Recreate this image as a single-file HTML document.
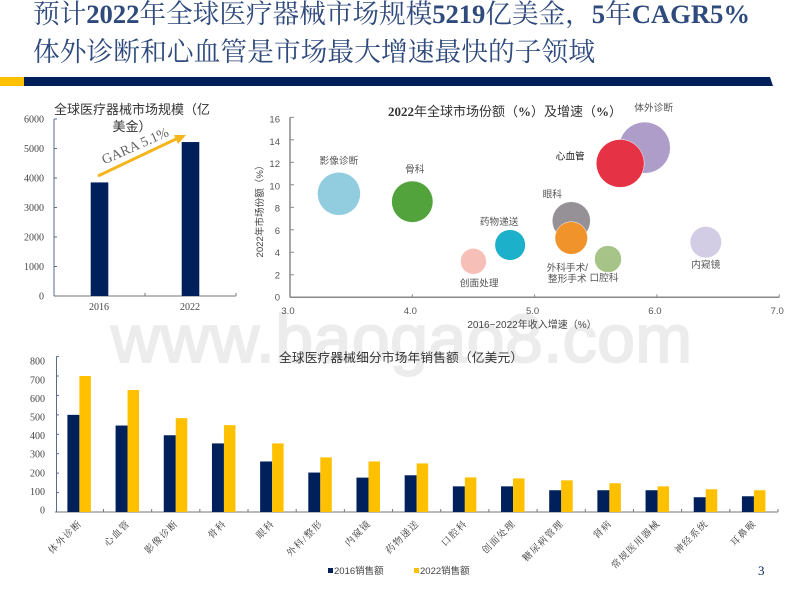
<!DOCTYPE html>
<html lang="zh">
<head>
<meta charset="utf-8">
<title>全球医疗器械市场</title>
<style>
html,body{margin:0;padding:0;background:#fff;}
#slide{position:relative;width:800px;height:600px;overflow:hidden;background:#fff;}
svg{position:absolute;left:0;top:0;}
text{font-family:"Liberation Sans","Noto Sans CJK SC",sans-serif;}
.head{font-family:"Liberation Serif","Noto Serif CJK SC",serif;fill:#2f4a7c;font-size:26.7px;}
.head tspan.b{font-weight:bold;}
.serif{font-family:"Liberation Serif","Noto Serif CJK SC",serif;}
</style>
</head>
<body>
<div id="slide">
<svg id="chart" width="800" height="600" viewBox="0 0 800 600">
  <text x="111" y="362" font-size="68" fill="#ececec" stroke="#ececec" stroke-width="2" textLength="581" lengthAdjust="spacing">www.baogao8.com</text>

  <text class="head" x="33" y="23" textLength="717" lengthAdjust="spacing">预计<tspan class="b">2022</tspan>年全球医疗器械市场规模<tspan class="b">5219</tspan>亿美金，<tspan class="b">5</tspan>年<tspan class="b">CAGR5%</tspan></text>
  <text class="head" x="33" y="61" textLength="562" lengthAdjust="spacing">体外诊断和心血管是市场最大增速最快的子领域</text>

  <rect x="0" y="77" width="24" height="9" fill="#ffc000"/>
  <polygon points="24,77 770,77 773,86 24,86" fill="#00205b"/>

  <text x="132" y="114" font-size="13" fill="#333" text-anchor="middle">全球医疗器械市场规模（亿</text>
  <text x="132" y="131" font-size="13" fill="#333" text-anchor="middle">美金）</text>

  <text x="388" y="116" font-size="13" fill="#333" textLength="234" lengthAdjust="spacing"><tspan class="serif" font-weight="bold">2022</tspan>年全球市场份额（<tspan class="serif" font-weight="bold">%</tspan>）及增速（<tspan class="serif" font-weight="bold">%</tspan>）</text>
  <text x="532" y="328" font-size="10" fill="#444" text-anchor="middle">2016~2022年收入增速（%）</text>
  <text transform="translate(263,209) rotate(-90)" font-size="9.6" fill="#444" text-anchor="middle">2022年市场份额（%）</text>

  <text x="279" y="362" font-size="12.7" fill="#333" textLength="244" lengthAdjust="spacing">全球医疗器械细分市场年销售额（亿美元）</text>

  <rect x="328" y="568" width="5" height="5" fill="#00205b"/>
  <text x="334" y="574" font-size="9.5" fill="#444">2016销售额</text>
  <rect x="414" y="568" width="5" height="5" fill="#ffc000"/>
  <text x="420" y="574" font-size="9.5" fill="#444">2022销售额</text>

  <text class="serif" x="758" y="575" font-size="13" fill="#00205b">3</text>
</svg>
</div>
<script>
var sizeYears = ["2016", "2022"];
var sizeValues = [3850, 5219];
var sizeTicks = [0, 1000, 2000, 3000, 4000, 5000, 6000];

var bubbleNames = ["影像诊断", "骨科", "药物递送", "创面处理", "体外诊断", "心血管", "眼科", "外科手术/整形手术", "口腔科", "内窥镜"];
var bubbleGrowth = [3.4, 4.0, 4.8, 4.5, 5.9, 5.7, 5.3, 5.3, 5.6, 6.4];
var bubbleShare = [9.2, 8.5, 4.65, 3.2, 13.3, 11.9, 6.8, 5.27, 3.4, 4.9];
var bubbleWeight = [9.2, 8.5, 4.65, 3.2, 13.3, 11.9, 6.8, 5.27, 3.4, 4.9];
var bubbleXTicks = [3, 4, 5, 6, 7];
var bubbleYTicks = [0, 2, 4, 6, 8, 10, 12, 14, 16];

var segmentNames = ["体外诊断", "心血管", "影像诊断", "骨科", "眼科", "外科/整形", "内窥镜", "药物递送", "口腔科", "创面处理", "糖尿病管理", "肾病", "常规医用器械", "神经系统", "耳鼻喉"];
var segment2016 = [500, 445, 395, 353, 260, 203, 177, 189, 132, 132, 112, 112, 112, 76, 81];
var segment2022 = [700, 628, 483, 447, 353, 281, 260, 250, 178, 173, 163, 148, 132, 117, 112];
var segmentTicks = [0, 100, 200, 300, 400, 500, 600, 700, 800];

var NS = "http://www.w3.org/2000/svg";
var svg = document.getElementById("chart");

function mk(tag, attrs, txt) {
  var e = document.createElementNS(NS, tag);
  for (var k in attrs) { e.setAttribute(k, attrs[k]); }
  if (txt !== undefined) { e.textContent = txt; }
  svg.appendChild(e);
  return e;
}

/* Market size chart */
function sizeY(v) { return 296 - v * 177 / 6000; }
function sizeBandLeft(i) { return 54 + i * 91; }
var sizeAxisY = mk("line", {x1: 54, y1: sizeY(6000), x2: 54, y2: sizeY(0), stroke: "#5a6b8c", "stroke-width": 1});


var sizeAxisX = mk("line", {x1: 54, y1: sizeY(0), x2: 236, y2: sizeY(0), stroke: "#777", "stroke-width": 1});


sizeTicks.forEach(function (t) {
  var tm = mk("line", {x1: 54, y1: sizeY(t), x2: 57, y2: sizeY(t), stroke: "#5a6b8c", "stroke-width": 1});
  
  
  var lb = mk("text", {x: 44, y: sizeY(t) + 3.5, "font-size": 10, fill: "#444", "text-anchor": "end", "class": "serif"}, t);
  
  
});
sizeYears.forEach(function (yr, i) {
  var left = sizeBandLeft(i);
  var tm = mk("line", {x1: left + 91, y1: sizeY(0), x2: left + 91, y2: sizeY(0) - 3, stroke: "#777", "stroke-width": 1});
  
  
  var bar = mk("rect", {x: left + 36.7, y: sizeY(sizeValues[i]), width: 17.6, height: sizeY(0) - sizeY(sizeValues[i]), fill: "#00205b"});
  
  
  var lb = mk("text", {x: left + 45, y: 310, "font-size": 10, fill: "#444", "text-anchor": "middle", "class": "serif"}, yr);
  
  
});
var arrowLine = mk("line", {x1: 98, y1: 176, x2: 176, y2: 139, stroke: "#f5b51b", "stroke-width": 3});


var arrowHead = mk("polygon", {points: "186,135 174,135 178,144", fill: "#f5b51b"});


var arrowText = mk("text", {transform: "translate(137,150) rotate(-24)", "font-size": 14, fill: "#666", "text-anchor": "middle", "class": "serif"}, "GARA 5.1%");



/* Bubble chart */
function bx(v) { return 290 + (v - 3) * 122.3; }
function by(v) { return 297.3 - v * 11.25; }
function byLabel(v) { return 300.5 - v * 11.12; }
function br(v) { return 7.1 * Math.sqrt(v); }
var bubbleFills = ["#92cddf", "#52a33c", "#1cb0cb", "#f6c0b8", "#ae9cc9", "#e63245", "#969196", "#f0932a", "#a6c388", "#d3cce5"];
var bubbleRadiusAdjust = [1.0, 1.0, 1.0, 1.02, 0.99, 0.98, 1.03, 1.0, 1.03, 1.0];
var bubbleLabelDx = [0, 2.5, -11, 5.7, 9, -50, -19, -4, -4, 0];
var bubbleLabelDy = [-30, -29, -20, 25, -36.6, -4, -23.5, 33, 22, 26];
var bAxisY = mk("line", {x1: 290, y1: by(16), x2: 290, y2: by(0), stroke: "#888", "stroke-width": 1.5});


var bAxisX = mk("line", {x1: 290, y1: by(0), x2: bx(7), y2: by(0), stroke: "#888", "stroke-width": 1.5});


bubbleYTicks.forEach(function (t) {
  var tm = mk("line", {x1: 290, y1: by(t), x2: 294, y2: by(t), stroke: "#888", "stroke-width": 1});
  
  
  var lb = mk("text", {x: 280, y: byLabel(t), "font-size": 9.5, fill: "#555", "text-anchor": "end"}, t);
  
  
});
bubbleXTicks.forEach(function (t) {
  var tm = mk("line", {x1: bx(t), y1: by(0), x2: bx(t), y2: by(0) - 3, stroke: "#888", "stroke-width": 1});
  
  
  var lb = mk("text", {x: bx(t) - 2, y: 314, "font-size": 9.5, fill: "#555", "text-anchor": "middle"}, t.toFixed(1));
  
  
});
bubbleNames.forEach(function (name, i) {
  var cx = bx(bubbleGrowth[i]), cy = by(bubbleShare[i]);
  var c = mk("circle", {cx: cx, cy: cy, r: br(bubbleWeight[i]) * bubbleRadiusAdjust[i], fill: bubbleFills[i], stroke: "#fff", "stroke-width": 0.5});
  
  
});
bubbleNames.forEach(function (name, i) {
  var cx = bx(bubbleGrowth[i]), cy = by(bubbleShare[i]);
  var parts = name.indexOf("/") > 0 ? [name.slice(0, name.indexOf("/") + 1), name.slice(name.indexOf("/") + 1)] : [name];
  parts.forEach(function (p, k) {
    var lb = mk("text", {x: cx + bubbleLabelDx[i], y: cy + bubbleLabelDy[i] + k * 11, "font-size": 9.7, fill: i === 5 ? "#222" : "#555", "text-anchor": "middle"}, p);
    
    
  });
});

/* Segment chart */
function sy(v) { return 512 - v * 0.1943; }
function syLabel(v) { return 513.5 - v * 0.186; }
function sLeft(i) { return 55.3 + i * 48.18; }
var sAxisY = mk("line", {x1: 56.5, y1: sy(800), x2: 56.5, y2: sy(0), stroke: "#5a6b8c", "stroke-width": 1});


var sAxisX = mk("line", {x1: 55, y1: sy(0), x2: 778, y2: sy(0), stroke: "#777", "stroke-width": 1});


segmentTicks.forEach(function (t) {
  var tm = mk("line", {x1: 56.5, y1: sy(t), x2: 59, y2: sy(t), stroke: "#5a6b8c", "stroke-width": 1});
  
  
  var lb = mk("text", {x: 45, y: syLabel(t), "font-size": 10, fill: "#444", "text-anchor": "end", "class": "serif"}, t);
  
  
});
segmentNames.forEach(function (name, i) {
  var left = sLeft(i), mid = left + 24.1;
  var tm = mk("line", {x1: left + 48.18, y1: sy(0), x2: left + 48.18, y2: sy(0) - 3, stroke: "#777", "stroke-width": 1});
  
  
  var b1 = mk("rect", {x: mid - 12, y: sy(segment2016[i]), width: 12, height: sy(0) - sy(segment2016[i]), fill: "#00205b"});
  
  
  var b2 = mk("rect", {x: mid, y: sy(segment2022[i]), width: 11.5, height: sy(0) - sy(segment2022[i]), fill: "#ffc000"});
  
  
  var lb = mk("text", {transform: "translate(" + (mid + 3) + ",524) rotate(-45)", "font-size": 9.5, "letter-spacing": 1.2, fill: "#333", "text-anchor": "end", "class": "serif"}, name);
  
  
});
</script>
</body>
</html>
